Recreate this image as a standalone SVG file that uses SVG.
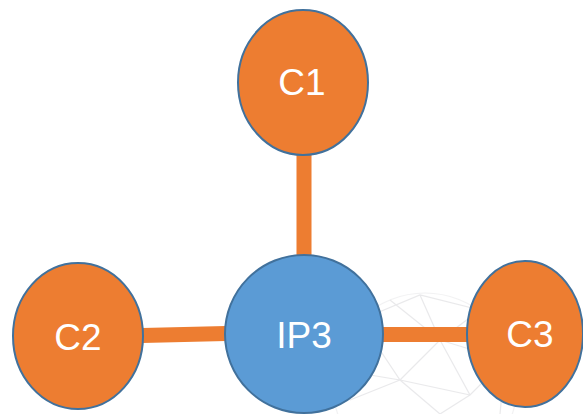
<svg xmlns="http://www.w3.org/2000/svg" width="583" height="414" viewBox="0 0 583 414">
<style>
.orange{fill:#ED7D31;stroke:#41719C;stroke-width:2}
.blue{fill:#5B9BD5;stroke:#41719C;stroke-width:2}
.lbl{font-family:"Liberation Sans",Arial,sans-serif;font-size:37px;fill:#FFFFFF;text-anchor:middle}
.link{stroke:#ED7D31;stroke-width:15;fill:none}
.mesh{stroke:#8a8a95;stroke-width:1.2;fill:none;opacity:0.18}
</style>
<rect width="583" height="414" fill="#FFFFFF"/>
<g id="watermark" class="mesh">
<circle cx="425" cy="385" r="92" opacity="0.6"/>
<path d="M360 320 L420 295 L480 310 L505 360 L500 414 M420 295 L440 340 L480 310 M440 340 L505 360 M440 340 L400 380 L360 320 M400 380 L440 414 M440 340 L470 395 L505 360 M400 380 L350 400 M360 320 L340 370 L350 400 M470 395 L440 414 M400 380 L470 395 M420 295 L360 320 M390 300 L440 340 M340 370 L400 380"/>
</g>
<g id="connectors">
<line class="link" x1="304" y1="152" x2="304" y2="256"/>
<line class="link" x1="142" y1="335.5" x2="226" y2="333.5"/>
<line class="link" x1="382" y1="334.5" x2="468" y2="334.5"/>
</g>
<g id="C1">
<ellipse class="orange" cx="303" cy="82.5" rx="65" ry="72.5"/>
<text class="lbl" x="302" y="95">C1</text>
</g>
<g id="C2">
<ellipse class="orange" cx="78" cy="336" rx="65" ry="73"/>
<text class="lbl" x="78" y="350">C2</text>
</g>
<g id="IP3">
<circle class="blue" cx="304" cy="334" r="79"/>
<text class="lbl" x="304" y="348">IP3</text>
</g>
<g id="C3">
<ellipse class="orange" cx="525" cy="334" rx="58" ry="73"/>
<text class="lbl" x="530" y="347">C3</text>
</g>
</svg>
